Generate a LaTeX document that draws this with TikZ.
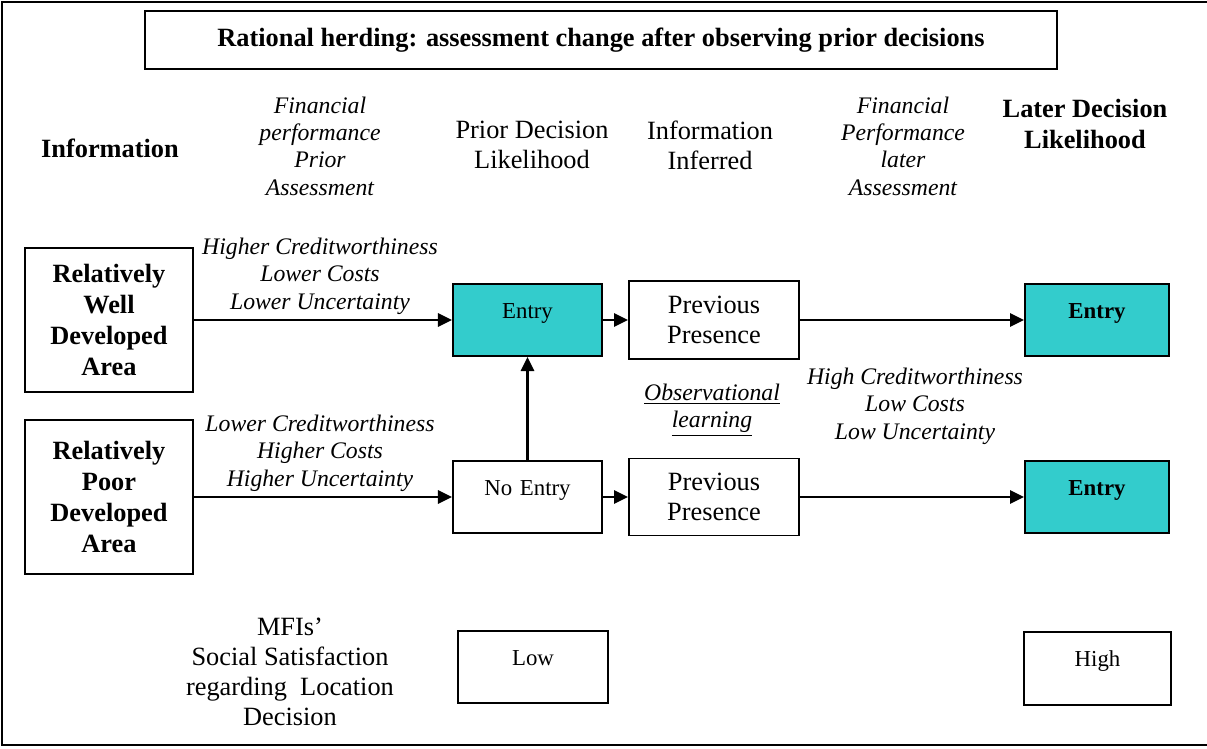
\documentclass[tikz,border=0pt]{standalone}
\usepackage{fontspec}
\setmainfont{Liberation Serif}
\usepackage{xcolor}
\usepackage{tikz}
\usetikzlibrary{arrows.meta}
\definecolor{entryfill}{rgb}{0.2,0.8,0.8}

\begin{document}
\begin{tikzpicture}[x=0.02cm,y=-0.02cm,
		box/.style={draw,line width=1.1pt,inner sep=0pt},
		decbox/.style={box,text width=#1,text height=0.68cm,text depth=0.76cm,align=center,font=\fontsize{13}{15}\selectfont},
		presbox/.style={box,minimum width=3.4cm,minimum height=1.56cm,align=center,font=\fontsize{15}{17}\selectfont},
		areabox/.style={box,minimum width=3.36cm,align=center,font=\bfseries\fontsize{15}{17.6}\selectfont},
		head/.style={align=center,font=\fontsize{15}{17}\selectfont},
		slant/.style={align=center,font=\itshape\fontsize{13.5}{15.6}\selectfont},
		flow/.style={-{Triangle[length=8pt,width=7.5pt]},line width=1.5pt}]
				\useasboundingbox (0,0) rectangle (1207,748);
				\draw[line width=1pt] (1207,2) -- (2,2) -- (2,745) -- (1207,745);
				
				\coordinate (t0) at (601,40);%title
				\coordinate (a1) at (109,320);%well developed
				\coordinate (a2) at (109,497);%poor developed
				\coordinate (d1) at (527.5,320);%entry
				\coordinate (d2) at (527.5,497);%no entry
				\coordinate (p1) at (714,320);%presence top
				\coordinate (p2) at (714,497);%presence bottom
				\coordinate (l1) at (1097,320);%later entry top
				\coordinate (l2) at (1097,497);%later entry bottom
				\coordinate (s1) at (533,667);%low
				\coordinate (s2) at (1097.5,668.5);%high
				
				\node[box,minimum width=18.24cm,minimum height=1.16cm,font=\bfseries\fontsize{15}{17}\selectfont] (title) at (t0) {Rational herding: assessment change after observing prior decisions};
				
				\node[head,font=\bfseries\fontsize{15}{17}\selectfont] (info) at (110,148) {Information};
				\node[slant] (finprior) at (320,146) {Financial\\performance\\Prior\\Assessment};
				\node[head] (priorlik) at (532,145) {Prior Decision\\Likelihood};
				\node[head] (inferred) at (710,145) {Information\\Inferred};
				\node[slant] (finlater) at (903,146) {Financial\\Performance\\later\\Assessment};
				\node[head,font=\bfseries\fontsize{15}{17.6}\selectfont] (laterlik) at (1085,124) {Later Decision\\Likelihood};
				
				\node[areabox,minimum height=2.88cm] (well) at (a1) {Relatively\\Well\\Developed\\Area};
				\node[areabox,minimum height=3.08cm] (poor) at (a2) {Relatively\\Poor\\Developed\\Area};
				\node[decbox=2.98cm,fill=entryfill] (entry) at (d1) {Entry};
				\node[decbox=2.98cm] (noentry) at (d2) {No Entry};
				\node[presbox] (prestop) at (p1) {Previous\\Presence};
				\node[presbox,minimum height=1.54cm] (presbot) at (p2) {Previous\\Presence};
				\node[decbox=2.88cm,fill=entryfill,font=\bfseries\fontsize{13}{15}\selectfont] (latertop) at (l1) {Entry};
				\node[decbox=2.88cm,fill=entryfill,font=\bfseries\fontsize{13}{15}\selectfont] (laterbot) at (l2) {Entry};
				\node[decbox=3cm] (low) at (s1) {Low};
				\node[decbox=2.94cm,text depth=0.78cm] (high) at (s2) {High};
				
				\node[slant] (goodterms) at (320,276) {Higher Creditworthiness\\Lower Costs\\Lower Uncertainty};
				\node[slant] (badterms) at (320,453) {Lower Creditworthiness\\Higher Costs\\Higher Uncertainty};
				\node[slant] (obslearn) at (712,410) {\underline{Observational}\\\underline{learning}};
				\node[slant] (newterms) at (915,406) {High Creditworthiness\\Low Costs\\Low Uncertainty};
				\node[head,font=\fontsize{15}{17.2}\selectfont] (mfis) at (290,672) {MFIs’\\Social Satisfaction\\regarding~ Location\\Decision};
				
				\draw[flow] (well.east) -- (entry.west);
				\draw[flow] (poor.east) -- (noentry.west);
				\draw[flow] (entry.east) -- (prestop.west);
				\draw[flow] (noentry.east) -- (presbot.west);
				\draw[flow] (noentry.north) -- (entry.south);
				\draw[flow] (prestop.east) -- (latertop.west);
				\draw[flow] (presbot.east) -- (laterbot.west);
				
			\end{tikzpicture}
\end{document}
